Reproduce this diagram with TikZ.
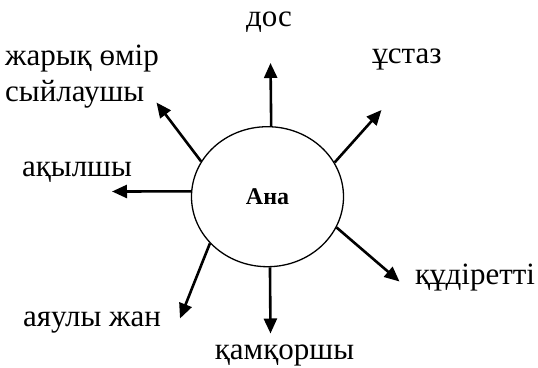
\documentclass[tikz,border=0pt]{standalone}
\usepackage{fontspec}
\setmainfont{Liberation Serif}
\usetikzlibrary{arrows.meta,shapes.geometric}
\begin{document}
\begin{tikzpicture}[x=1pt,y=-1pt,
  lbl/.style={inner sep=0pt,font=\fontsize{31}{37}\selectfont},
  arr/.style={line width=2.6pt,-{Triangle[length=15pt,width=13pt]}},
  hub/.style={draw,ellipse,line width=1.3pt,minimum width=152pt,minimum height=140pt,inner sep=0pt,font=\fontsize{24}{28}\selectfont\bfseries}]
\useasboundingbox (0,0) rectangle (538,367);
\node[hub] (ana) at (267.5,196.7) {Ана};
% arrow tips
\coordinate (tU) at (270.5,63);
\coordinate (tUR) at (381.5,110);
\coordinate (tUL) at (156.5,102.5);
\coordinate (tL) at (112,191.5);
\coordinate (tDL) at (180,318.5);
\coordinate (tD) at (270.5,333.5);
\coordinate (tDR) at (399.5,281.5);
\draw[arr] (ana.87.5) -- (tU);
\draw[arr] (ana.27.7) -- (tUR);
\draw[arr] (ana.152.1) -- (tUL);
\draw[arr] (ana.176.1) -- (tL);
\draw[arr] (ana.219) -- (tDL);
\draw[arr] (ana.272.5) -- (tD);
\draw[arr] (ana.336.5) -- (tDR);
% labels
\node[lbl,anchor=base] (dos) at (269,26) {дос};
\node[lbl,anchor=base] (ustaz) at (407,63.3) {ұстаз};
\node[lbl,anchor=base west] (zharyk) at (5,65) {жарық өмір};
\node[lbl,anchor=base west] (syilau) at (5,101) {сыйлаушы};
\node[lbl,anchor=base] (akyl) at (77,176) {ақылшы};
\node[lbl,anchor=base] (ayauly) at (92,326) {аяулы жан};
\node[lbl,anchor=base] (kamk) at (284.5,359) {қамқоршы};
\node[lbl,anchor=base] (kudir) at (475,284) {құдіретті};
\end{tikzpicture}
\end{document}
